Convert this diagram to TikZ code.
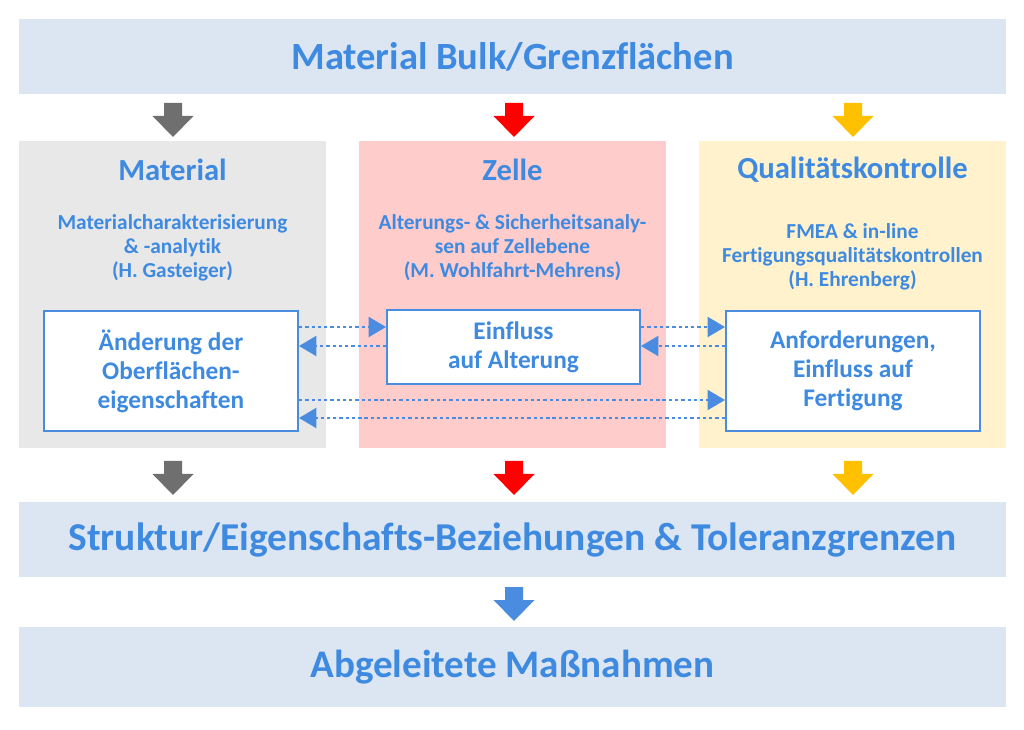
\documentclass[tikz,border=0pt]{standalone}
\usepackage{fontspec}
\setmainfont{Carlito}[Ligatures=NoCommon]
\usetikzlibrary{arrows.meta}
\definecolor{txtblue}{HTML}{3E8AE0}
\definecolor{bandc}{HTML}{DCE6F2}
\definecolor{grayc}{HTML}{E8E8E8}
\definecolor{pinkc}{HTML}{FFCCCC}
\definecolor{yellc}{HTML}{FFF2CC}
\definecolor{garrow}{HTML}{6F6F6F}
\definecolor{rarrow}{HTML}{FF0000}
\definecolor{yarrow}{HTML}{FFC000}
\definecolor{barrow}{HTML}{4A8DE0}
\newcommand\blockarr[3]{\fill[#3] (#1-9,#2) -- (#1+9,#2) -- (#1+9,#2+13) -- (#1+20.5,#2+13) -- (#1,#2+34) -- (#1-20.5,#2+13) -- (#1-9,#2+13) -- cycle;}
\begin{document}
\begin{tikzpicture}[x=0.75pt,y=-0.75pt,
  band/.style={fill=bandc, minimum width=987*0.75pt, inner sep=0pt, text=txtblue},
  column/.style={minimum width=307*0.75pt, minimum height=307*0.75pt, inner sep=0pt},
  head/.style={text=txtblue, font=\bfseries\fontsize{23}{28}\selectfont},
  sub/.style={text=txtblue, align=center, font=\bfseries\fontsize{16}{18}\selectfont},
  innerbox/.style={draw=barrow, line width=1.5pt, fill=white, inner sep=0pt, text=txtblue, align=center, font=\bfseries\fontsize{19}{21.75}\selectfont},
  conn/.style={draw=barrow, line width=1.5pt, dash pattern=on 2.5pt off 2.2pt, -{Triangle[length=13pt,width=15pt]}}
]
\useasboundingbox (0,0) rectangle (1024,730);
\fill[white] (0,0) rectangle (1024,730);

% bands
\node[band, minimum height=75*0.75pt, font=\bfseries\fontsize{28.9}{34}\selectfont] (top) at (512.5,56.5) {Material Bulk/Grenzflächen};
\node[band, minimum height=75*0.75pt, font=\bfseries\fontsize{29.6}{34}\selectfont] (mid) at (512.5,539.5) {Struktur/Eigenschafts-Beziehungen \& Toleranzgrenzen};
\node[band, minimum height=80*0.75pt, font=\bfseries\fontsize{29.3}{34}\selectfont] (bot) at (512.5,667) {Abgeleitete Maßnahmen};

% columns
\node[column, fill=grayc] (colm) at (172.5,294.5) {};
\node[column, fill=pinkc] (colz) at (512.5,294.5) {};
\node[column, fill=yellc] (colq) at (852.5,294.5) {};

\node[head] (hm) at (172.5,170) {Material};
\node[head] (hz) at (512.5,170) {Zelle};
\node[head] (hq) at (852.5,170) {Qualitätskontrolle};

\node[sub] (sm) at (172.5,247.5) {Materialcharakterisierung\\\& -analytik\\(H. Gasteiger)};
\node[sub] (sz) at (512.5,247.5) {Alterungs- \& Sicherheitsanaly-\\sen auf Zellebene\\(M. Wohlfahrt-Mehrens)};
\node[sub] (sq) at (852.5,256.5) {FMEA \& in-line\\Fertigungsqualitätskontrollen\\(H. Ehrenberg)};

% inner boxes
\node[innerbox, minimum width=254*0.75pt, minimum height=120*0.75pt] (mbox) at (171,371) {Änderung der\\Oberflächen-\\eigenschaften};
\node[innerbox, minimum width=253*0.75pt, minimum height=74*0.75pt] (zbox) at (513.5,347) {Einfluss\\auf Alterung};
\node[innerbox, minimum width=254*0.75pt, minimum height=120*0.75pt] (qbox) at (853,371) {Anforderungen,\\Einfluss auf\\Fertigung};

% connectors
\coordinate (ya) at (0,327);
\coordinate (yb) at (0,346);
\coordinate (yc) at (0,400);
\coordinate (yd) at (0,418);
\draw[conn] (mbox.east |- ya) -- (zbox.west |- ya);
\draw[conn] (zbox.west |- yb) -- (mbox.east |- yb);
\draw[conn] (zbox.east |- ya) -- (qbox.west |- ya);
\draw[conn] (qbox.west |- yb) -- (zbox.east |- yb);
\draw[conn] (mbox.east |- yc) -- (qbox.west |- yc);
\draw[conn] (qbox.west |- yd) -- (mbox.east |- yd);

% block arrows
\blockarr{173}{103}{garrow}
\blockarr{514}{103}{rarrow}
\blockarr{853}{103}{yarrow}
\blockarr{173}{461}{garrow}
\blockarr{514}{461}{rarrow}
\blockarr{853}{461}{yarrow}
\blockarr{514}{587}{barrow}
\end{tikzpicture}
\end{document}
